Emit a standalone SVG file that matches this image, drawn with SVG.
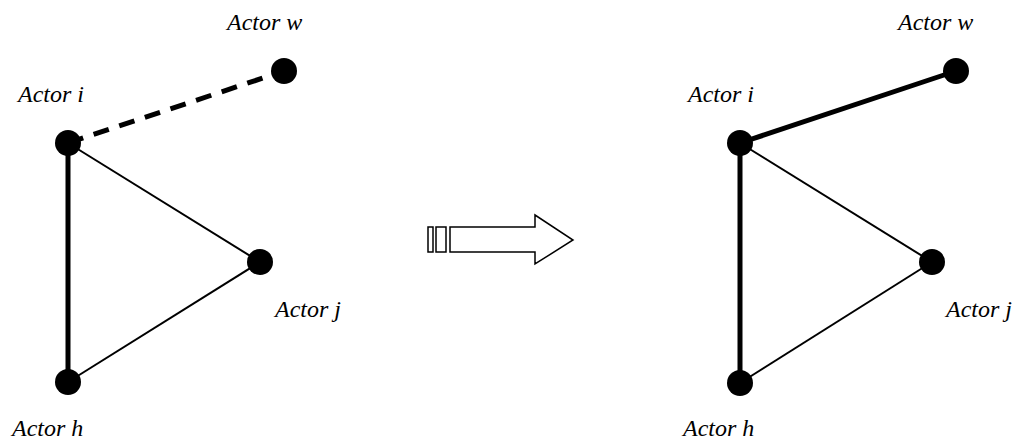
<svg xmlns="http://www.w3.org/2000/svg" width="1017" height="443" viewBox="0 0 1017 443">
  <style>
    text { font-family: "Liberation Serif", "DejaVu Serif", serif; font-style: italic; font-size: 24px; fill: #000; }
    .dot { fill: #000; }
    .thin { stroke: #000; stroke-width: 2; fill: none; }
    .thick { stroke: #000; stroke-width: 5; fill: none; }
    .dash { stroke: #000; stroke-width: 5; fill: none; stroke-dasharray: 16 11; }
    .outline { fill: #fff; stroke: #000; stroke-width: 1.5; }
  </style>
  <rect width="1017" height="443" fill="#fff"/>

  <!-- connectors: network before the tie forms -->
  <g id="connectors-before">
    <line class="dash" x1="68" y1="143" x2="284" y2="71"/>
    <line class="thick" x1="68" y1="143" x2="68" y2="382"/>
    <line class="thin" x1="68" y1="143" x2="260" y2="262"/>
    <line class="thin" x1="68" y1="382" x2="260" y2="262"/>
  </g>

  <!-- connectors: network after the tie forms -->
  <g id="connectors-after">
    <line class="thick" x1="740" y1="143" x2="956" y2="71"/>
    <line class="thick" x1="740" y1="143" x2="740" y2="383"/>
    <line class="thin" x1="740" y1="143" x2="932" y2="262"/>
    <line class="thin" x1="740" y1="383" x2="932" y2="262"/>
  </g>

  <!-- left network nodes -->
  <g id="left-actor-w">
    <circle class="dot" cx="284" cy="71" r="13"/>
    <text x="227" y="30">Actor w</text>
  </g>
  <g id="left-actor-i">
    <circle class="dot" cx="68" cy="143" r="13"/>
    <text x="18" y="102">Actor i</text>
  </g>
  <g id="left-actor-j">
    <circle class="dot" cx="260" cy="262" r="13"/>
    <text x="275" y="317">Actor j</text>
  </g>
  <g id="left-actor-h">
    <circle class="dot" cx="68" cy="382" r="13"/>
    <text x="12" y="436">Actor h</text>
  </g>

  <!-- transition arrow -->
  <g id="transition-arrow">
    <rect class="outline" x="428" y="227" width="5" height="25"/>
    <rect class="outline" x="436" y="227" width="10" height="25"/>
    <path class="outline" d="M450 227 H535 V215 L573 240 L535 264 V252 H450 Z"/>
  </g>

  <!-- right network nodes -->
  <g id="right-actor-w">
    <circle class="dot" cx="956" cy="71" r="13"/>
    <text x="898" y="30">Actor w</text>
  </g>
  <g id="right-actor-i">
    <circle class="dot" cx="740" cy="143" r="13"/>
    <text x="688" y="102">Actor i</text>
  </g>
  <g id="right-actor-j">
    <circle class="dot" cx="932" cy="262" r="13"/>
    <text x="946" y="317">Actor j</text>
  </g>
  <g id="right-actor-h">
    <circle class="dot" cx="740" cy="383" r="13"/>
    <text x="683" y="436">Actor h</text>
  </g>
</svg>
